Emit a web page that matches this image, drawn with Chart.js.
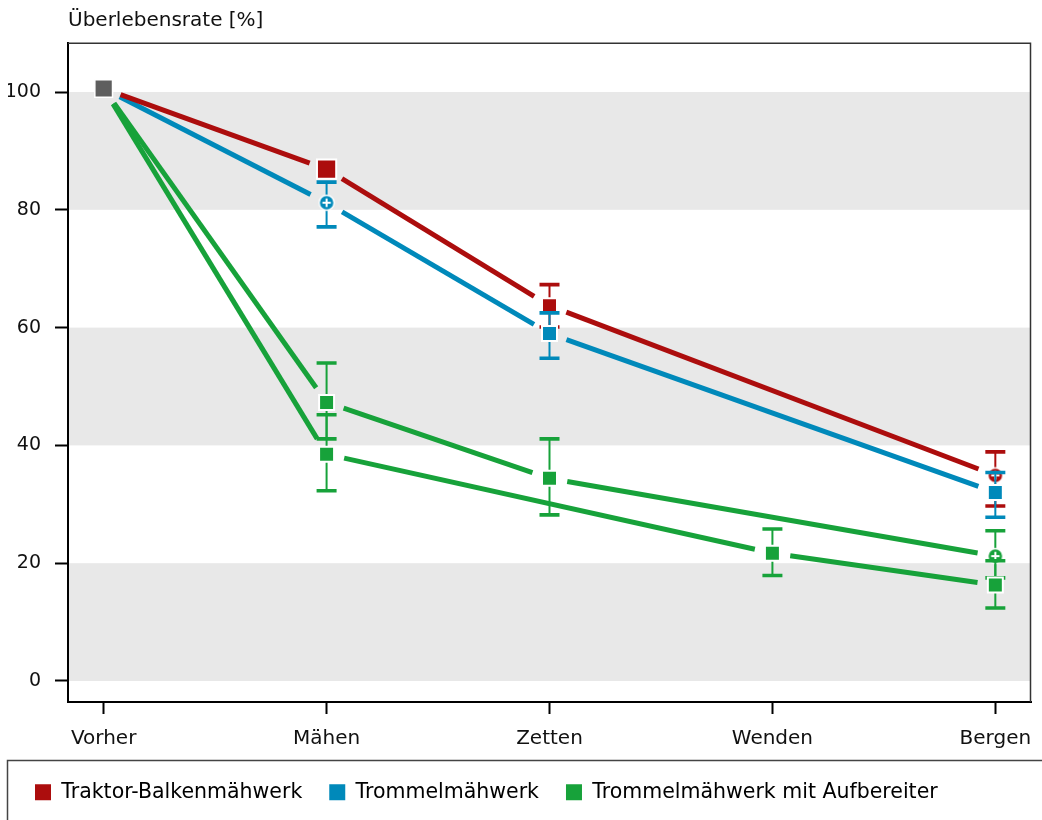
<!DOCTYPE html>
<html><head><meta charset="utf-8">
<script src="https://cdn.jsdelivr.net/npm/chart.js@4.4.1/dist/chart.umd.min.js"></script>
<style>html,body{margin:0;padding:0;background:#fff}#wrap{width:1042px;height:820px;position:relative}</style>
</head><body><div id="wrap"><canvas id="c"></canvas></div>
<script>
// ---------- data ----------
const categories = ['Vorher', 'Mähen', 'Zetten', 'Wenden', 'Bergen'];
const yTicks = [0, 20, 40, 60, 80, 100];
const bands = [[0, 20], [40, 60], [80, 100]];
const yTitle = 'Überlebensrate [%]';
const seriesNames = ['Traktor-Balkenmähwerk', 'Trommelmähwerk', 'Trommelmähwerk mit Aufbereiter'];

const vorher = [100.6, null, null, null, null];

const red      = [100.6, 86.9, 63.7, null, 34.9];
const redLow   = [null,  null, 60.1, null, 29.7];
const redHigh  = [null,  null, 67.3, null, 38.9];
const redMarks = ['',    'S',  's',  '',   'c'];

const blue      = [100.6, 81.2, 59.0, null, 32.0];
const blueLow   = [null,  77.1, 54.8, null, 27.8];
const blueHigh  = [null,  84.7, 62.5, null, 35.4];
const blueMarks = ['',    'c',  's',  '',   's'];

const greenA      = [100.6, 47.3, 34.4, null, 21.2];
const greenALow   = [null,  41.1, 28.2, null, 17.5];
const greenAHigh  = [null,  54.0, 41.1, null, 25.5];
const greenAMarks = ['',    's',  's',  '',   'c'];

const greenB      = [100.6, 38.5, null, 21.7, 16.3];
const greenBLow   = [null,  32.3, null, 17.9, 12.4];
const greenBHigh  = [null,  45.2, null, 25.8, 20.4];
const greenBMarks = ['',    's',  '',   's',  's'];

// ---------- styling ----------
const C = {red: '#AC0D0D', blue: '#0089BA', green: '#17A23A', grey: '#5E5E5E', band: '#E8E8E8', text: '#111'};
const FONT = '"DejaVu Sans", sans-serif';

function circlePlus(color) {
  const c = document.createElement('canvas');
  c.width = 18; c.height = 18;
  const g = c.getContext('2d');
  g.beginPath(); g.arc(9, 9, 7.5, 0, Math.PI * 2);
  g.fillStyle = color; g.fill();
  g.lineWidth = 1.5; g.strokeStyle = '#fff'; g.stroke();
  g.beginPath(); g.moveTo(9, 4.8); g.lineTo(9, 13.2); g.moveTo(4.8, 9); g.lineTo(13.2, 9);
  g.lineWidth = 2; g.stroke();
  return c;
}

function markRadius(m) {
  return m === '' ? 0 : (m === 'S' ? 13.6 : (m === 'c' ? 7 : 10.6));
}

function makeDataset(label, color, values, low, high, marks, order, showInLegend) {
  const idx = values.map((v, i) => v == null ? -1 : i).filter(i => i >= 0);
  const img = circlePlus(color);
  return {
    label, order, showInLegend,
    data: idx.map(i => ({x: i, y: values[i]})),
    errLow: idx.map(i => low[i]),
    errHigh: idx.map(i => high[i]),
    showLine: false,
    borderColor: color,
    backgroundColor: color,
    pointBackgroundColor: color,
    pointBorderColor: '#fff',
    pointBorderWidth: idx.map(i => marks[i] === 'c' ? 0 : 2),
    pointStyle: idx.map(i => marks[i] === 'c' ? img : 'rect'),
    pointRadius: idx.map(i => markRadius(marks[i])),
    pointHoverRadius: idx.map(i => markRadius(marks[i]))
  };
}

const datasets = [
  {
    label: 'Vorher', order: 0, showInLegend: false,
    data: vorher.map((v, i) => v == null ? null : {x: i, y: v}).filter(p => p),
    showLine: false, pointStyle: 'rect', pointRadius: 12.5, pointHoverRadius: 12.5,
    pointBackgroundColor: C.grey, pointBorderColor: '#fff', pointBorderWidth: 1.5,
    borderColor: C.grey, backgroundColor: C.grey
  },
  makeDataset(seriesNames[0], C.red, red, redLow, redHigh, redMarks, 4, true),
  makeDataset(seriesNames[1], C.blue, blue, blueLow, blueHigh, blueMarks, 3, true),
  makeDataset(seriesNames[2], C.green, greenA, greenALow, greenAHigh, greenAMarks, 2, true),
  makeDataset(seriesNames[2], C.green, greenB, greenBLow, greenBHigh, greenBMarks, 1, false)
];

const LINE_GAP = 18;

const decor = {
  id: 'decor',
  beforeDraw(chart) {
    const {ctx, chartArea: a, scales: {y}} = chart;
    ctx.save();
    ctx.fillStyle = C.band;
    bands.forEach(([lo, hi]) => {
      const t = y.getPixelForValue(hi), b = y.getPixelForValue(lo);
      ctx.fillRect(a.left, t, a.right - a.left, b - t);
    });
    ctx.restore();
  },
  beforeDatasetsDraw(chart) {
    const ctx = chart.ctx;
    const a = chart.chartArea;
    ctx.save();
    ctx.beginPath();
    ctx.rect(a.left, a.top, a.right - a.left, a.bottom - a.top);
    ctx.clip();
    const orderIdx = [4, 3, 2, 1];
    orderIdx.forEach(di => {
      const ds = chart.data.datasets[di];
      const pts = chart.getDatasetMeta(di).data;
      ctx.strokeStyle = ds.borderColor;
      ctx.lineWidth = 5;
      ctx.lineCap = 'butt';
      for (let k = 0; k < pts.length - 1; k++) {
        const p0 = pts[k], p1 = pts[k + 1];
        const dx = p1.x - p0.x, dy = p1.y - p0.y, len = Math.hypot(dx, dy);
        const ux = dx / len, uy = dy / len;
        ctx.beginPath();
        ctx.moveTo(p0.x + ux * LINE_GAP, p0.y + uy * LINE_GAP);
        ctx.lineTo(p1.x - ux * LINE_GAP, p1.y - uy * LINE_GAP);
        ctx.stroke();
      }
    });
    ctx.restore();
  },
  beforeDatasetDraw(chart, args) {
    const ds = chart.data.datasets[args.index];
    if (!ds.errLow) return;
    const ctx = chart.ctx, y = chart.scales.y;
    ctx.save();
    ctx.strokeStyle = ds.borderColor;
    ctx.lineCap = 'butt';
    args.meta.data.forEach((pt, k) => {
      const lo = ds.errLow[k], hi = ds.errHigh[k];
      if (lo == null || hi == null) return;
      const yl = y.getPixelForValue(lo), yh = y.getPixelForValue(hi);
      ctx.lineWidth = 2;
      ctx.beginPath(); ctx.moveTo(pt.x, yh); ctx.lineTo(pt.x, yl); ctx.stroke();
      ctx.lineWidth = 3.6;
      ctx.beginPath();
      ctx.moveTo(pt.x - 10, yh); ctx.lineTo(pt.x + 10, yh);
      ctx.moveTo(pt.x - 10, yl); ctx.lineTo(pt.x + 10, yl);
      ctx.stroke();
    });
    ctx.restore();
  },
  afterDraw(chart) {
    const {ctx, chartArea: a} = chart;
    ctx.save();
    ctx.strokeStyle = '#333';
    ctx.lineWidth = 1.5;
    ctx.beginPath();
    ctx.moveTo(a.left, a.top + 0.25); ctx.lineTo(a.right - 0.5, a.top + 0.25); ctx.lineTo(a.right - 0.5, a.bottom);
    ctx.stroke();
    ctx.strokeStyle = '#444';
    ctx.lineWidth = 1.5;
    ctx.strokeRect(7.5, 760.5, 1200, 200);
    ctx.fillStyle = C.text;
    ctx.font = '20px ' + FONT;
    ctx.textAlign = 'left';
    ctx.textBaseline = 'alphabetic';
    ctx.fillText(yTitle, a.left, 26);
    ctx.restore();
  }
};

Chart.defaults.font.family = FONT;
Chart.defaults.color = C.text;

new Chart(document.getElementById('c'), {
  type: 'scatter',
  data: {datasets},
  options: {
    responsive: true,
    maintainAspectRatio: false,
    animation: false,
    events: [],
    layout: {autoPadding: false, padding: {left: 8, top: 43, right: 11, bottom: 7.5}},
    scales: {
      x: {
        type: 'linear', min: -0.16, max: 4.16,
        afterBuildTicks: s => { s.ticks = categories.map((_, i) => ({value: i})); },
        afterFit: s => { s.height = 53; s.paddingLeft = 0; s.paddingRight = 0; },
        ticks: {callback: v => categories[v], font: {size: 20}, color: C.text, padding: 13, maxRotation: 0, autoSkip: false},
        grid: {drawOnChartArea: false, drawTicks: true, tickLength: 12, tickWidth: 2, tickColor: '#000'},
        border: {display: true, color: '#000', width: 2}
      },
      y: {
        type: 'linear', min: -3.57, max: 108.32,
        afterBuildTicks: s => { s.ticks = yTicks.map(v => ({value: v})); },
        afterFit: s => { s.width = 60; s.paddingTop = 0; s.paddingBottom = 0; },
        ticks: {callback: v => String(v), font: {size: 19}, color: C.text, padding: 14},
        grid: {drawOnChartArea: false, drawTicks: true, tickLength: 13, tickWidth: 2, tickColor: '#000'},
        border: {display: true, color: '#000', width: 2}
      }
    },
    plugins: {
      tooltip: {enabled: false},
      title: {display: false},
      legend: {
        display: true, position: 'bottom', align: 'start',
        labels: {
          boxWidth: 16, boxHeight: 16, padding: 27,
          font: {size: 20.5}, color: C.text,
          generateLabels: chart => chart.data.datasets
            .map((d, i) => ({d, i}))
            .filter(o => o.d.showInLegend)
            .map(o => ({text: o.d.label, fillStyle: o.d.borderColor, strokeStyle: o.d.borderColor, lineWidth: 0, hidden: false, datasetIndex: o.i}))
        }
      }
    }
  },
  plugins: [decor]
});
</script>
</body></html>
